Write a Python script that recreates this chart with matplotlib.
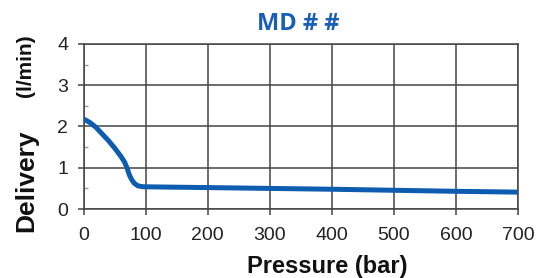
import numpy as np
import matplotlib.pyplot as plt

# pressure (bar) vs delivery (l/min)
pressure = [0, 10, 20, 30, 40, 50, 60, 66, 70, 74, 78, 82, 88, 96, 120, 147, 200, 300, 400, 500, 600, 700]
delivery = [2.18, 2.1, 1.98, 1.82, 1.66, 1.48, 1.28, 1.14, 1.0, 0.82, 0.7, 0.62, 0.56, 0.54, 0.535, 0.53, 0.52, 0.5, 0.48, 0.455, 0.43, 0.41]

x_ticks = [0, 100, 200, 300, 400, 500, 600, 700]
y_ticks = [0, 1, 2, 3, 4]

plt.rcParams['font.family'] = ['Liberation Sans', 'DejaVu Sans']

fig = plt.figure(figsize=(5.46, 2.78), dpi=100)
ax = fig.add_axes([0.153, 0.248, 0.796, 0.594])

ax.plot(pressure, delivery, color='#0d5cb0', lw=3.6, solid_capstyle='butt', zorder=3)

ax.set_xlim(0, 700)
ax.set_ylim(0, 4)
ax.set_xticks(x_ticks)
ax.set_yticks(y_ticks)
ax.set_yticks(np.arange(0.5, 4, 1.0), minor=True)
ax.grid(True, which='major', color='#444444', lw=1.1)
ax.tick_params(which='major', direction='out', length=4, width=1.1, color='#444444',
               labelsize=14, labelcolor='#222222')
ax.tick_params(axis='x', pad=9)
ax.tick_params(axis='y', pad=7)
ax.tick_params(which='minor', axis='y', direction='in', length=3, width=1, color='#999999')
for s in ax.spines.values():
    s.set_color('#444444')
    s.set_linewidth(1.1)

fig.text(298 / 546, 1 - 24 / 278, 'MD # #', ha='center', va='center', fontsize=17,
         fontweight='bold', color='#1a5eb5', family=['Open Sans', 'DejaVu Sans'])
fig.text(327 / 546, 1 - 267 / 278, 'Pressure (bar)', ha='center', va='center',
         fontsize=17, fontweight='bold', color='#111111')
fig.text(26 / 546, 1 - 181 / 278, 'Delivery', ha='center', va='center', rotation=90,
         fontsize=19, fontweight='bold', color='#111111')
fig.text(26 / 546, 1 - 66 / 278, '(l/min)', ha='center', va='center', rotation=90,
         fontsize=15, fontweight='bold', color='#111111')

fig.savefig('out.png', dpi=100)
